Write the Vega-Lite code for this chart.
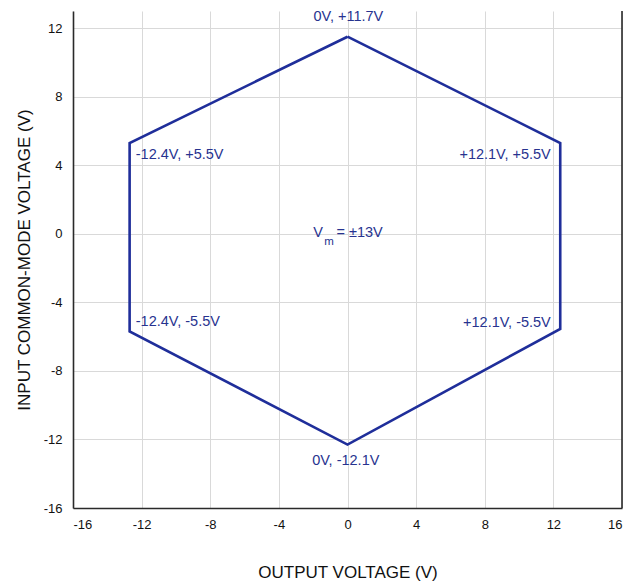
{
  "$schema": "https://vega.github.io/schema/vega-lite/v6.json",
  "width": 549,
  "height": 497,
  "autosize": {"type": "none"},
  "padding": {"left": 73, "top": 11, "right": 16, "bottom": 79},
  "background": "white",
  "config": {
    "view": {"stroke": null},
    "font": "Liberation Sans",
    "axis": {
      "grid": true,
      "gridColor": "#d9d9d9",
      "gridWidth": 1,
      "domainColor": "#2a2a2a",
      "domainWidth": 1.6,
      "ticks": false,
      "labelFont": "Liberation Sans",
      "labelFontSize": 13,
      "labelColor": "#111111",
      "labelExpr": "toString(datum.value)",
      "titleFont": "Liberation Sans",
      "titleFontSize": 17,
      "titleFontWeight": "normal",
      "titleColor": "#111111"
    }
  },
  "datasets": {
    "hex": [
      {"order": 0, "vout": 0, "vcm": 11.5},
      {"order": 1, "vout": 12.4, "vcm": 5.3},
      {"order": 2, "vout": 12.4, "vcm": -5.55},
      {"order": 3, "vout": 0, "vcm": -12.3},
      {"order": 4, "vout": -12.7, "vcm": -5.7},
      {"order": 5, "vout": -12.7, "vcm": 5.3},
      {"order": 6, "vout": 0, "vcm": 11.5}
    ],
    "labels": [
      {"text": "0V, +11.7V", "lx": 0.05, "ly": 12.66, "side": "center"},
      {"text": "0V, -12.1V", "lx": -0.1, "ly": -13.25, "side": "center"},
      {"text": "-12.4V, +5.5V", "lx": -12.34, "ly": 4.6, "side": "left"},
      {"text": "-12.4V, -5.5V", "lx": -12.34, "ly": -5.15, "side": "left"},
      {"text": "+12.1V, +5.5V", "lx": 11.85, "ly": 4.6, "side": "right"},
      {"text": "+12.1V, -5.5V", "lx": 11.85, "ly": -5.2, "side": "right"},
      {"text": "V", "lx": -2.0, "ly": 0.05, "side": "left"},
      {"text": "= ±13V", "lx": -0.64, "ly": 0.05, "side": "left"}
    ],
    "sub": [
      {"text": "m", "lx": -1.35, "ly": -0.5}
    ]
  },
  "layer": [
    {
      "data": {"values": [{"edge": 16}]},
      "mark": {"type": "rule", "color": "#2a2a2a", "strokeWidth": 1.6},
      "encoding": {
        "x": {"field": "edge", "type": "quantitative", "scale": {"domain": [-16, 16], "nice": false, "zero": false}}
      }
    },
    {
      "data": {"name": "hex"},
      "mark": {"type": "line", "color": "#1f2e9a", "strokeWidth": 2.6, "strokeJoin": "miter"},
      "encoding": {
        "x": {
          "field": "vout", "type": "quantitative",
          "scale": {"domain": [-16, 16], "nice": false, "zero": false},
          "axis": {"values": [-16, -12, -8, -4, 0, 4, 8, 12, 16], "title": "OUTPUT VOLTAGE (V)", "labelPadding": 10, "titlePadding": 33}
        },
        "y": {
          "field": "vcm", "type": "quantitative",
          "scale": {"domain": [-16, 13], "nice": false, "zero": false},
          "axis": {"values": [-16, -12, -8, -4, 0, 4, 8, 12], "title": "INPUT COMMON-MODE VOLTAGE (V)", "labelPadding": 11, "titlePadding": 10}
        },
        "order": {"field": "order", "type": "quantitative"}
      }
    },
    {
      "data": {"name": "labels"},
      "transform": [{"filter": "datum.side == 'center'"}],
      "mark": {"type": "text", "align": "center", "baseline": "middle", "fontSize": 14.5, "color": "#27338f"},
      "encoding": {
        "x": {"field": "lx", "type": "quantitative"},
        "y": {"field": "ly", "type": "quantitative"},
        "text": {"field": "text"}
      }
    },
    {
      "data": {"name": "labels"},
      "transform": [{"filter": "datum.side == 'left'"}],
      "mark": {"type": "text", "align": "left", "baseline": "middle", "fontSize": 14.5, "color": "#27338f"},
      "encoding": {
        "x": {"field": "lx", "type": "quantitative"},
        "y": {"field": "ly", "type": "quantitative"},
        "text": {"field": "text"}
      }
    },
    {
      "data": {"name": "labels"},
      "transform": [{"filter": "datum.side == 'right'"}],
      "mark": {"type": "text", "align": "right", "baseline": "middle", "fontSize": 14.5, "color": "#27338f"},
      "encoding": {
        "x": {"field": "lx", "type": "quantitative"},
        "y": {"field": "ly", "type": "quantitative"},
        "text": {"field": "text"}
      }
    },
    {
      "data": {"name": "sub"},
      "mark": {"type": "text", "align": "left", "baseline": "middle", "fontSize": 11.5, "color": "#27338f"},
      "encoding": {
        "x": {"field": "lx", "type": "quantitative"},
        "y": {"field": "ly", "type": "quantitative"},
        "text": {"field": "text"}
      }
    }
  ]
}
